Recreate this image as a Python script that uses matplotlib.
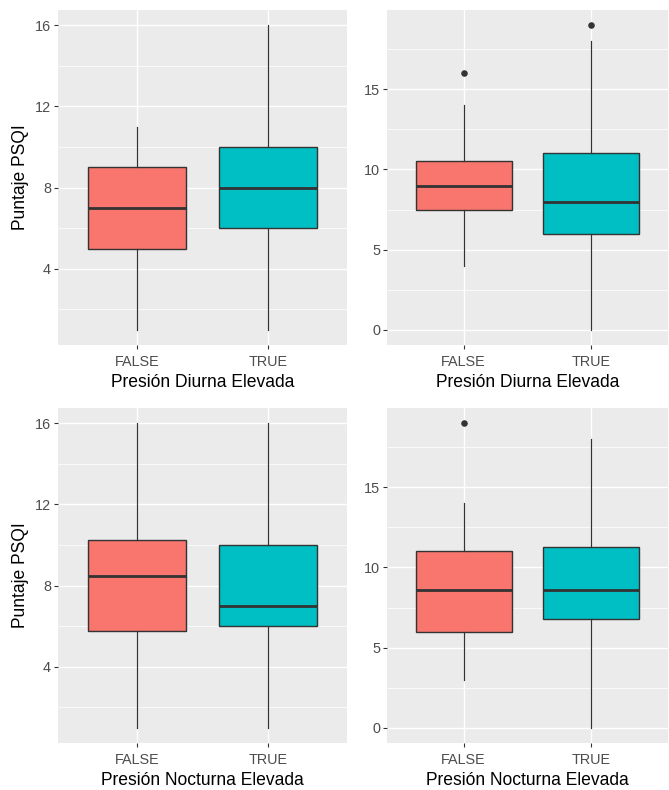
import matplotlib
matplotlib.use("Agg")
import matplotlib.pyplot as plt
from matplotlib.ticker import FixedLocator

plt.rcParams['font.family'] = ['Liberation Sans', 'DejaVu Sans']

groups = ["FALSE", "TRUE"]
fill_colors = ["#F8766D", "#00BFC4"]

# Top-left: Presión Diurna Elevada vs Puntaje PSQI
tl_whislo = [1, 1]
tl_q1 = [5, 6]
tl_med = [7, 8]
tl_q3 = [9, 10]
tl_whishi = [11, 16]
tl_fliers = [[], []]

# Top-right: Presión Diurna Elevada
tr_whislo = [4, 0]
tr_q1 = [7.5, 6]
tr_med = [9, 8]
tr_q3 = [10.5, 11]
tr_whishi = [14, 18]
tr_fliers = [[16], [19]]

# Bottom-left: Presión Nocturna Elevada vs Puntaje PSQI
bl_whislo = [1, 1]
bl_q1 = [5.75, 6]
bl_med = [8.5, 7]
bl_q3 = [10.25, 10]
bl_whishi = [16, 16]
bl_fliers = [[], []]

# Bottom-right: Presión Nocturna Elevada
br_whislo = [3, 0]
br_q1 = [6, 6.8]
br_med = [8.6, 8.6]
br_q3 = [11, 11.25]
br_whishi = [14, 18]
br_fliers = [[19], []]

left_major = [4, 8, 12, 16]
left_minor = [2, 6, 10, 14]
right_major = [0, 5, 10, 15]
right_minor = [2.5, 7.5, 12.5, 17.5]

xlab_top = "Presión Diurna Elevada"
xlab_bottom = "Presión Nocturna Elevada"
ylab = "Puntaje PSQI"

W, H = 669, 790
DPI = 72
fig = plt.figure(figsize=(W / DPI, H / DPI), dpi=DPI)
fig.patch.set_facecolor("white")


def px_axes(x0, y0, x1, y1):
    return fig.add_axes([x0 / W, (H - y1) / H, (x1 - x0) / W, (y1 - y0) / H])


def draw(ax, whislo, q1, med, q3, whishi, fliers, major, minor, xlabel, ylabel):
    stats = []
    for i in range(len(groups)):
        stats.append(dict(whislo=whislo[i], q1=q1[i], med=med[i], q3=q3[i],
                          whishi=whishi[i], fliers=fliers[i], label=groups[i]))
    ax.set_facecolor("#EBEBEB")
    bp = ax.bxp(stats, positions=[1, 2], widths=0.75, patch_artist=True,
                showcaps=False, showfliers=True,
                boxprops=dict(edgecolor="#333333", linewidth=1.4),
                medianprops=dict(color="#333333", linewidth=2.8),
                whiskerprops=dict(color="#333333", linewidth=1.2),
                flierprops=dict(marker="o", markerfacecolor="#333333",
                                markeredgecolor="#333333", markersize=5.5),
                zorder=3)
    for patch, c in zip(bp["boxes"], fill_colors):
        patch.set_facecolor(c)
    allv = list(whislo) + list(whishi) + [v for f in fliers for v in f]
    lo, hi = min(allv), max(allv)
    pad = (hi - lo) * 0.05
    ax.set_ylim(lo - pad, hi + pad)
    ax.set_xlim(0.4, 2.6)
    ax.set_xticks([1, 2])
    ax.set_xticklabels(groups)
    ax.yaxis.set_major_locator(FixedLocator(major))
    ax.yaxis.set_minor_locator(FixedLocator(minor))
    ax.set_yticklabels([str(v) for v in major])
    ax.grid(which="major", color="white", linewidth=1.4)
    ax.grid(which="minor", axis="y", color="white", linewidth=0.7)
    ax.set_axisbelow(True)
    for s in ax.spines.values():
        s.set_visible(False)
    ax.tick_params(which="major", length=4, width=1.1, color="#333333",
                   labelcolor="#4D4D4D", labelsize=14.4)
    ax.tick_params(axis="x", which="major", pad=6.5)
    ax.tick_params(axis="y", which="major", pad=3)
    ax.tick_params(which="minor", length=0)
    ax.set_xlabel(xlabel, fontsize=17.5, color="black", labelpad=4.5)
    if ylabel:
        ax.set_ylabel(ylabel, fontsize=17.5, color="black", labelpad=6)


ax1 = px_axes(58, 10, 347, 345)
draw(ax1, tl_whislo, tl_q1, tl_med, tl_q3, tl_whishi, tl_fliers,
     left_major, left_minor, xlab_top, ylab)
ax2 = px_axes(387, 10, 668, 345)
draw(ax2, tr_whislo, tr_q1, tr_med, tr_q3, tr_whishi, tr_fliers,
     right_major, right_minor, xlab_top, None)
ax3 = px_axes(58, 408, 347, 743)
draw(ax3, bl_whislo, bl_q1, bl_med, bl_q3, bl_whishi, bl_fliers,
     left_major, left_minor, xlab_bottom, ylab)
ax4 = px_axes(387, 408, 668, 743)
draw(ax4, br_whislo, br_q1, br_med, br_q3, br_whishi, br_fliers,
     right_major, right_minor, xlab_bottom, None)

fig.savefig("out.png", dpi=DPI, facecolor="white")
